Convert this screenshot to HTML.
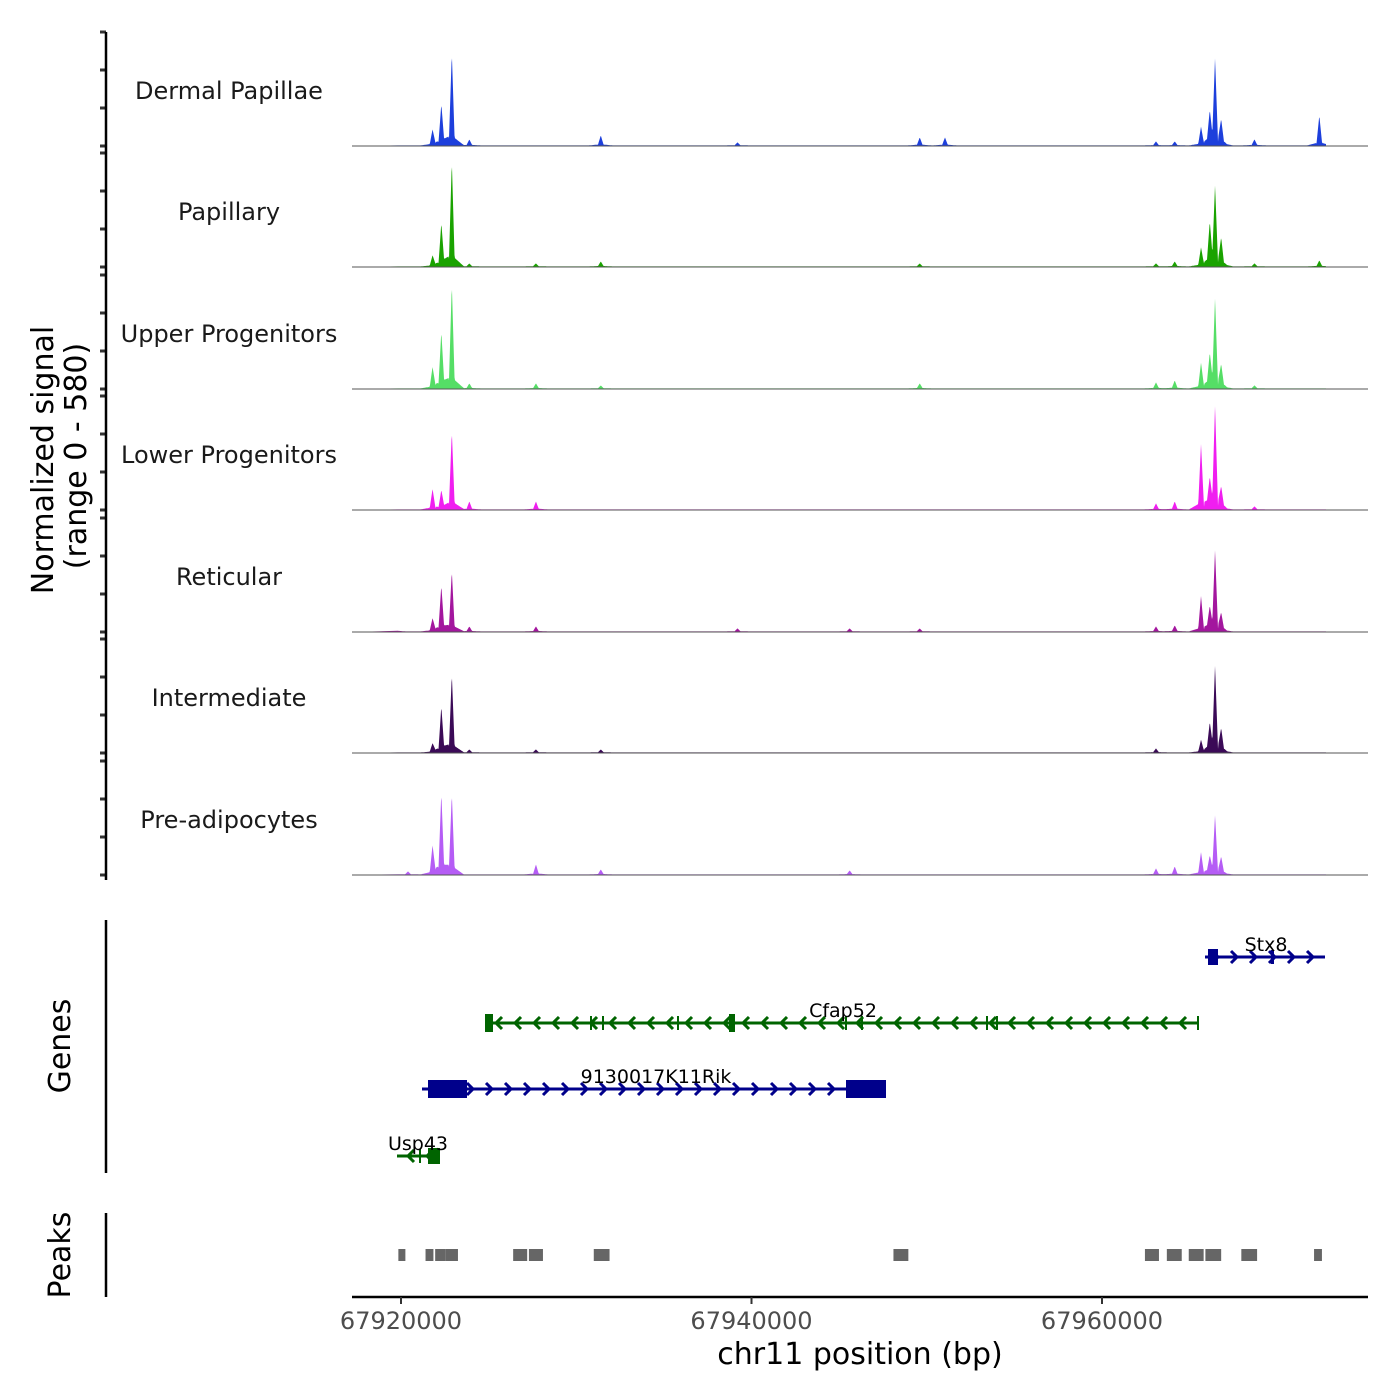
<!DOCTYPE html>
<html><head><meta charset="utf-8"><style>
body{margin:0;background:#fff}
svg{display:block;font-family:"DejaVu Sans","Liberation Sans",sans-serif}
</style></head><body>
<svg id="chart" width="1400" height="1400" viewBox="0 0 1400 1400" xmlns="http://www.w3.org/2000/svg">
<rect width="1400" height="1400" fill="#fff"/>
<g id="tracks"></g><g id="genes"></g><g id="peaks"></g><g id="axes"></g>
</svg>
<script>
const NS='http://www.w3.org/2000/svg';
const trackNames=['Dermal Papillae','Papillary','Upper Progenitors','Lower Progenitors','Reticular','Intermediate','Pre-adipocytes'];
const trackColors=['#1d3fdc','#1aa300','#55de66','#f01ef0','#a3169e','#3b0a57','#b55cf5'];
const peakPositions=[67919600,67920400,67921600,67921800,67922300,67922900,67923900,67927700,67931400,67939200,67945600,67949600,67951040,67963080,67964150,67965650,67966150,67966450,67966800,67968700,67972400];
const trackHeights=[
[0,0,0,15,40,92,6,0,10,3,0,8,8,4,4,18,30,85,22,6,30],
[0,0,0,10,42,105,3,3,5,0,0,3,0,3,5,18,40,78,25,3,6],
[0,0,0,20,55,104,5,5,3,0,0,5,0,6,8,25,30,88,20,3,0],
[0,0,0,20,18,78,8,8,0,0,0,0,0,6,8,65,25,102,18,3,0],
[8,0,0,12,45,60,5,5,0,3,3,3,0,5,6,35,20,80,15,0,0],
[0,0,0,8,45,78,3,3,3,0,0,0,0,4,0,12,25,85,20,0,0],
[0,3,0,27,80,80,0,10,5,0,4,0,0,6,8,22,15,58,15,0,0]];
const peakStarts=[67919850,67921400,67921950,67922550,67926400,67927300,67931000,67948100,67962450,67963700,67964950,67965900,67967950,67972100];
const peakEnds=[67920250,67921850,67922550,67923250,67927200,67928100,67931900,67948950,67963250,67964550,67965800,67966800,67968850,67972550];
const xTicks=[67920000,67940000,67960000];

const x0=67920000,px0=401,ppb=350.5/20000;
const X=bp=>px0+(bp-x0)*ppb;
const bases=[146,267,389,510,632,753,875];
function el(t,a,p,txt){const e=document.createElementNS(NS,t);for(const k in a)e.setAttribute(k,a[k]);if(txt!=null)e.textContent=txt;(p||document.getElementById('chart')).appendChild(e);return e;}
const gT=document.getElementById('tracks');
trackNames.forEach((nm,i)=>{
  const b=bases[i];
  const g=el('g',{},gT);
  
  
  let d='M352,'+b;
  for(let x=398;x<=1326;x+=0.5){
    let h=0.6;
    peakPositions.forEach((p,j)=>{const dx=Math.abs(x-X(p));const hv=trackHeights[i][j];if(dx<3)h+=hv*(1-dx/3);else if(dx<12)h+=hv*0.08*(1-(dx-3)/9);});
    d+=' L'+x+','+(b-h).toFixed(1);
  }
  d+=' L1326,'+b+' Z';
  const a=el('path',{d:d,fill:trackColors[i]},g);
  
  
  const l=el('line',{x1:352,x2:1368,y1:b,y2:b,stroke:'#555','stroke-width':1},g);
  
  
  const t=el('text',{x:229,y:b-47,'text-anchor':'middle','font-size':24,fill:'#1a1a1a'},g,nm);
  
  
  [0,38,76,114].forEach(o=>{const tk=el('line',{x1:100,x2:106,y1:b-o,y2:b-o,stroke:'#333','stroke-width':3},g);
    
    });
});
const ax=document.getElementById('axes');
function L(x1,y1,x2,y2,name,w,c){const e=el('line',{x1,y1,x2,y2,stroke:c||'#000','stroke-width':w||2.5},ax);return e;}
L(106,32,106,880,'signal-y-axis');
L(106,920,106,1173,'genes-y-axis');
L(106,1213,106,1297,'peaks-y-axis');
L(352,1297,1368,1297,'x-axis');
xTicks.forEach(v=>{L(X(v),1297,X(v),1304,'x-tick',2,'#333');
  const t=el('text',{x:X(v),y:1329,'text-anchor':'middle','font-size':24,fill:'#4d4d4d'},ax,String(v));
  
  });
let t=el('text',{x:860,y:1364,'text-anchor':'middle','font-size':30,fill:'#000'},ax,'chr11 position (bp)');

t=el('text',{transform:'translate(53,460) rotate(-90)','text-anchor':'middle','font-size':30},ax,'Normalized signal');

t=el('text',{transform:'translate(86,456) rotate(-90)','text-anchor':'middle','font-size':30},ax,'(range 0 - 580)');

t=el('text',{transform:'translate(70,1046) rotate(-90)','text-anchor':'middle','font-size':30},ax,'Genes');

t=el('text',{transform:'translate(70,1255) rotate(-90)','text-anchor':'middle','font-size':30},ax,'Peaks');


// genes
const gG=document.getElementById('genes');
function gene(name,s,e,y,col,dir,exons,lx,ly){
  const g=el('g',{},gG);
  
  
  el('line',{x1:s,x2:e,y1:y,y2:y,stroke:col,'stroke-width':3},g);
  for(let x=s+12;x<e-6;x+=19){
    const d=dir>0?`M${x-5},${y-6} L${x+1},${y} L${x-5},${y+6}`:`M${x+5},${y-6} L${x-1},${y} L${x+5},${y+6}`;
    el('path',{d:d,stroke:col,'stroke-width':3,fill:'none'},g);
  }
  exons.forEach(([a,b,h])=>el('rect',{x:a,y:y-h/2,width:b-a,height:h,fill:col},g));
  el('text',{x:lx,y:ly,'text-anchor':'middle','font-size':19,fill:'#000'},g,name);
}
gene('Stx8',1205,1325,957,'#00008b',1,[[1208,1218,16],[1271,1274,14]],1266,951);
gene('Cfap52',485,1199,1023,'#006400',-1,[[485,493,18],[590,592,14],[602,604,14],[677,679,14],[729,735,18],[845,847,14],[861,863,14],[986,988,14],[996,998,14],[1197,1199,14]],843,1017);
gene('9130017K11Rik',422,886,1089,'#00008b',1,[[428,467,18],[846,886,18]],656,1083);
gene('Usp43',397,440,1156,'#006400',-1,[[428,440,16],[419,421,14]],418,1150);

// peaks
const gP=document.getElementById('peaks');
peakStarts.forEach((s,i)=>{
  const r=el('rect',{x:X(s),y:1249,width:Math.max(6,X(peakEnds[i])-X(s)),height:12,fill:'#666'},gP);
  
  
});
</script>
</body></html>
